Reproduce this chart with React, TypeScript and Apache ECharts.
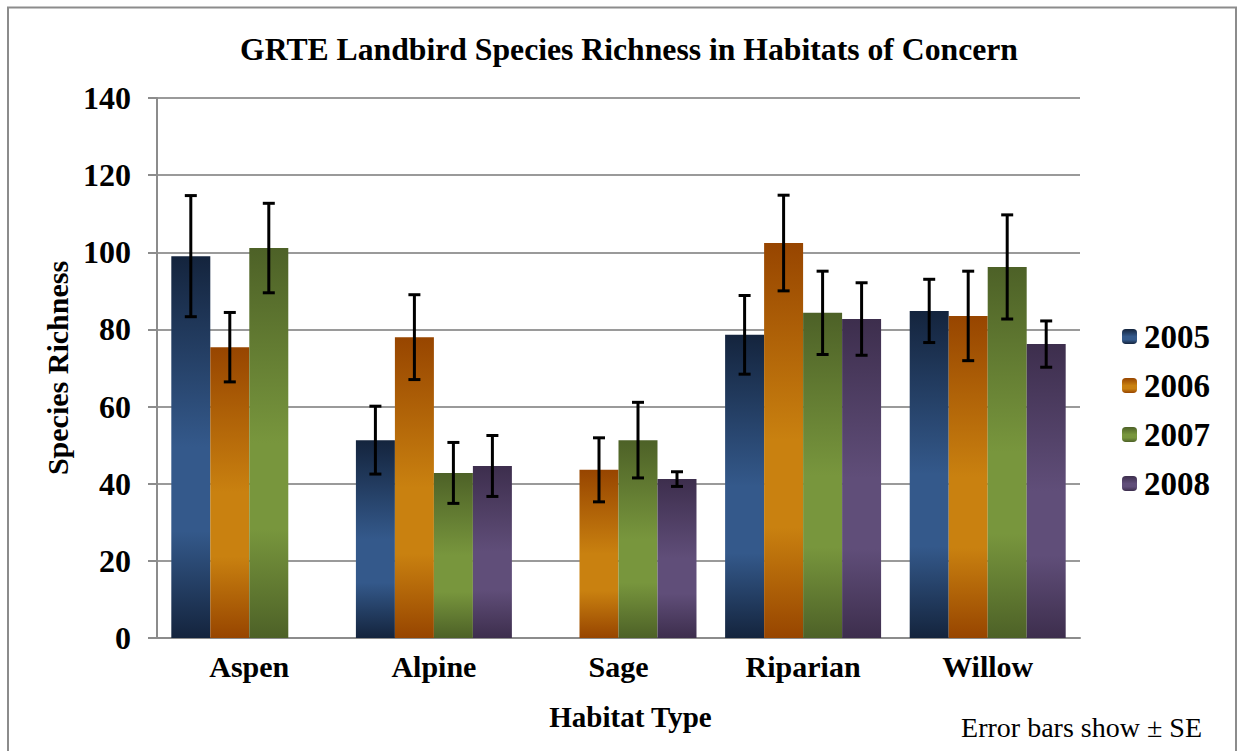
import React, { useEffect, useRef } from "react";
import * as echarts from "echarts";

const categories = ["Aspen", "Alpine", "Sage", "Riparian", "Willow"];
const years = ["2005", "2006", "2007", "2008"];
const s2005 = [99.0, 51.3, null, 78.6, 84.8];
const s2006 = [75.4, 78.0, 43.6, 102.4, 83.5];
const s2007 = [101.1, 42.8, 51.3, 84.3, 96.2];
const s2008 = [null, 44.6, 41.2, 82.7, 76.2];
const se2005 = [15.7, 8.8, null, 10.2, 8.2];
const se2006 = [9.0, 11.0, 8.3, 12.4, 11.6];
const se2007 = [11.6, 7.9, 9.8, 10.8, 13.5];
const se2008 = [null, 7.9, 1.9, 9.4, 6.0];
const yTicks = [0, 20, 40, 60, 80, 100, 120, 140];

const values = [s2005, s2006, s2007, s2008];
const errors = [se2005, se2006, se2007, se2008];
const palette = [
  ["#14243d", "#34598b"],
  ["#974500", "#c98110"],
  ["#4d6127", "#78963d"],
  ["#3d2e4d", "#604e79"],
];

const FONT = "Liberation Serif";
const CAT_GAP = 0.155;

function grad(c: string[]) {
  return new echarts.graphic.LinearGradient(0, 0, 0, 1, [
    { offset: 0, color: c[0] },
    { offset: 0.5, color: c[1] },
    { offset: 0.72, color: c[1] },
    { offset: 1, color: c[0] },
  ]);
}

export default function App() {
  const ref = useRef<HTMLDivElement>(null);
  useEffect(() => {
    if (!ref.current) return;
    const chart = echarts.init(ref.current, null, { renderer: "svg" });

    const errData: any[] = [];
    values.forEach((vals, si) => {
      vals.forEach((v, ci) => {
        const e = errors[si][ci];
        if (v == null || e == null) return;
        errData.push([ci, si, v - e, v + e]);
      });
    });

    const barSeries = years.map((y, si) => ({
      name: y,
      type: "bar",
      data: values[si],
      barGap: "0%",
      barCategoryGap: CAT_GAP * 100 + "%",
      itemStyle: { color: grad(palette[si]) },
      z: 2,
    }));

    chart.setOption({
      animation: false,
      backgroundColor: "#ffffff",
      title: {
        text: "GRTE Landbird Species Richness in Habitats of Concern",
        left: 240,
        top: 33,
        padding: 0,
        textStyle: { fontFamily: FONT, fontWeight: "bold", fontSize: 31.7, color: "#000" },
      },
      legend: {
        orient: "vertical",
        left: 1122,
        top: 320,
        padding: 0,
        itemWidth: 15,
        itemHeight: 15,
        itemGap: 16,
        data: years,
        textStyle: { fontFamily: FONT, fontWeight: "bold", fontSize: 33, color: "#000", lineHeight: 33, padding: [0, 0, 0, 2] },
      },
      grid: { left: 157, right: 161, top: 98, bottom: 113, containLabel: false },
      xAxis: {
        type: "category",
        data: categories,
        name: "Habitat Type",
        nameLocation: "middle",
        nameGap: 64,
        nameTextStyle: { fontFamily: FONT, fontWeight: "bold", fontSize: 29, color: "#000", padding: [0, 0, 0, 24] },
        axisLine: { lineStyle: { color: "#8c8c8c", width: 2 } },
        axisTick: { show: false },
        axisLabel: { margin: 13, fontFamily: FONT, fontWeight: "bold", fontSize: 30, color: "#000" },
      },
      yAxis: {
        type: "value",
        min: 0,
        max: 140,
        interval: 20,
        name: "Species Richness",
        nameLocation: "middle",
        nameGap: 82,
        nameTextStyle: { fontFamily: FONT, fontWeight: "bold", fontSize: 30, color: "#000" },
        axisLine: { show: true, lineStyle: { color: "#8c8c8c", width: 2 } },
        axisTick: { show: true, length: 9, lineStyle: { color: "#8c8c8c", width: 2 } },
        axisLabel: {
          margin: 26,
          fontFamily: FONT,
          fontWeight: "bold",
          fontSize: 32,
          color: "#000",
          formatter: (v: number) => (yTicks.includes(v) ? String(v) : ""),
        },
        splitLine: { lineStyle: { color: "#9a9a9a", width: 2 } },
      },
      series: [
        ...barSeries,
        {
          type: "custom",
          name: "SE",
          data: errData,
          encode: { x: 0, y: [2, 3] },
          z: 10,
          renderItem: (params: any, api: any) => {
            const ci = api.value(0);
            const si = api.value(1);
            const lo = api.coord([ci, api.value(2)]);
            const hi = api.coord([ci, api.value(3)]);
            const band = api.size([1, 0])[0];
            const bw = (band * (1 - CAT_GAP)) / 4;
            const x = lo[0] + (si - 1.5) * bw;
            const cap = 6;
            const st = { stroke: "#000", lineWidth: 3 };
            return {
              type: "group",
              children: [
                { type: "line", shape: { x1: x, y1: lo[1], x2: x, y2: hi[1] }, style: st },
                { type: "line", shape: { x1: x - cap, y1: lo[1], x2: x + cap, y2: lo[1] }, style: st },
                { type: "line", shape: { x1: x - cap, y1: hi[1], x2: x + cap, y2: hi[1] }, style: st },
              ],
            };
          },
        },
      ],
      graphic: [
        {
          type: "rect",
          shape: { x: 8, y: 7.5, width: 1228, height: 800 },
          style: { fill: "none", stroke: "#8c8c8c", lineWidth: 2 },
          silent: true,
        },
        {
          type: "text",
          x: 1202,
          y: 727,
          style: {
            text: "Error bars show ± SE",
            align: "right",
            verticalAlign: "middle",
            fontFamily: FONT,
            fontSize: 28,
            fill: "#000",
          },
        },
      ],
    });
    return () => chart.dispose();
  }, []);
  return (
    <div
      ref={ref}
      style={{ position: "absolute", left: 0, top: 0, width: 1241, height: 751 }}
    />
  );
}
